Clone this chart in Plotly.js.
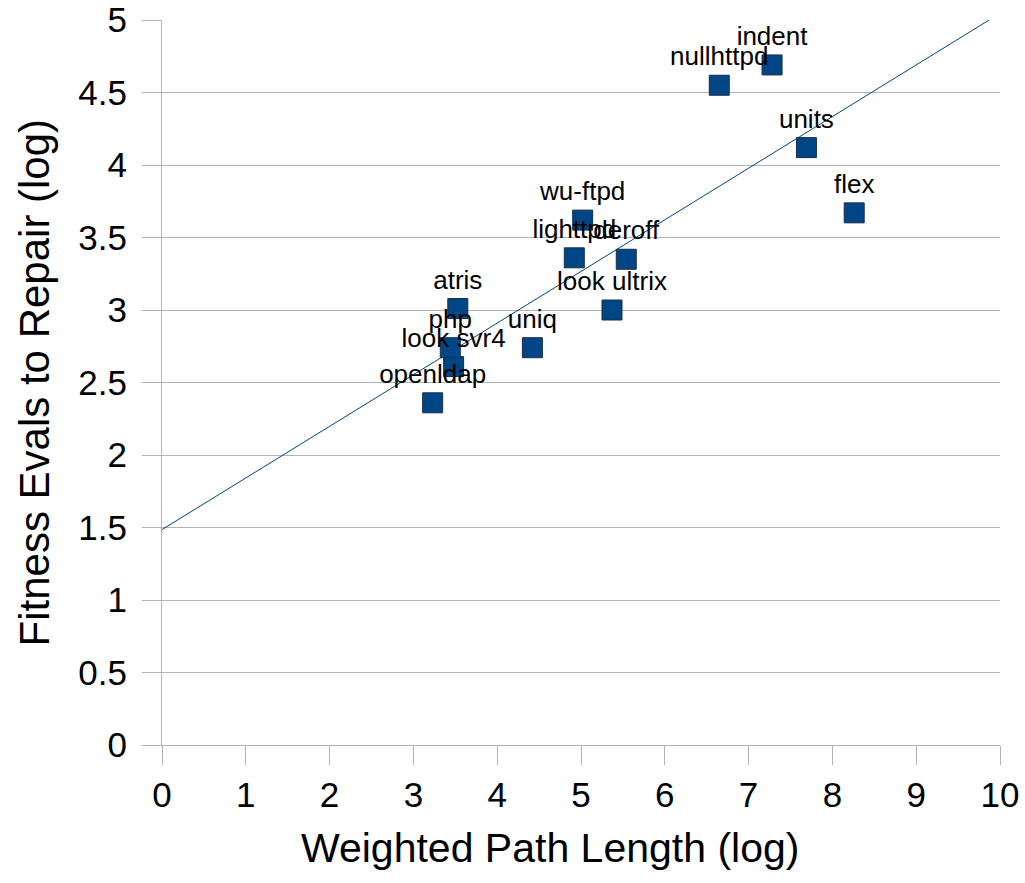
<!DOCTYPE html>
<html>
<head>
<meta charset="utf-8">
<script src="https://cdn.plot.ly/plotly-3.0.1.min.js"></script>
<style>html,body{margin:0;padding:0;background:#fff;}#chart{width:1025px;height:883px;}</style>
</head>
<body>
<div id="chart"></div>
<script>
// Program names and read-off values (log scale)
const programs = ["openldap", "look svr4", "php", "atris", "uniq", "lighttpd", "wu-ftpd", "deroff", "look ultrix", "nullhttpd", "indent", "units", "flex"];
const pathLength = [3.23, 3.48, 3.44, 3.53, 4.42, 4.92, 5.02, 5.54, 5.37, 6.65, 7.28, 7.69, 8.26];
const fitnessEvals = [2.36, 2.61, 2.74, 3.01, 2.74, 3.36, 3.62, 3.35, 3.00, 4.55, 4.69, 4.12, 3.67];
const xTicks = [0, 1, 2, 3, 4, 5, 6, 7, 8, 9, 10];
const yTicks = [0, 0.5, 1, 1.5, 2, 2.5, 3, 3.5, 4, 4.5, 5];
const xTitle = 'Weighted Path Length (log)';
const yTitle = 'Fitness Evals to Repair (log)';

// Least-squares linear trend line computed from the data
const n = pathLength.length;
const mx = pathLength.reduce((a, b) => a + b, 0) / n;
const my = fitnessEvals.reduce((a, b) => a + b, 0) / n;
let sxy = 0, sxx = 0;
for (let i = 0; i < n; i++) {
  sxy += (pathLength[i] - mx) * (fitnessEvals[i] - my);
  sxx += (pathLength[i] - mx) * (pathLength[i] - mx);
}
const slope = sxy / sxx;
const intercept = my - slope * mx;
const trendX = [xTicks[0], xTicks[xTicks.length - 1]];
const trendY = trendX.map(x => intercept + slope * x);

const grid = '#b3b3b3';
const font = 'Liberation Sans, Arial, sans-serif';

const traces = [
  {
    x: trendX, y: trendY, mode: 'lines', type: 'scatter',
    line: {color: '#004586', width: 1}, hoverinfo: 'skip', cliponaxis: true
  },
  {
    x: pathLength, y: fitnessEvals, text: programs, mode: 'markers+text', type: 'scatter',
    textposition: 'top center',
    textfont: {family: font, size: 26, color: '#000'},
    marker: {symbol: 'square', size: 20, color: '#004586', line: {color: '#1a2f4a', width: 1}},
    cliponaxis: false
  }
];

const layout = {
  width: 1025, height: 883,
  margin: {l: 162, r: 25, t: 20, b: 138},
  paper_bgcolor: '#fff', plot_bgcolor: '#fff',
  showlegend: false,
  font: {family: font, color: '#000'},
  xaxis: {
    range: [0, 10], tickvals: xTicks, ticktext: xTicks.map(String),
    showgrid: false, zeroline: false,
    showline: true, linecolor: grid, linewidth: 1,
    ticks: 'outside', ticklen: 19, tickcolor: grid, tickwidth: 1,
    tickfont: {family: font, size: 35, color: '#000'}
  },
  yaxis: {
    range: [0, 5], tickvals: yTicks, ticktext: yTicks.map(String),
    showgrid: true, gridcolor: grid, gridwidth: 1, zeroline: false,
    showline: true, linecolor: grid, linewidth: 1,
    ticks: 'outside', ticklen: 19, tickcolor: grid, tickwidth: 1,
    ticklabelstandoff: 8,
    tickfont: {family: font, size: 35, color: '#000'}
  },
  annotations: [
    {text: xTitle, xref: 'paper', yref: 'paper', x: 0.463, y: -0.142,
     xanchor: 'center', yanchor: 'middle', showarrow: false,
     font: {family: font, size: 41, color: '#000'}},
    {text: yTitle, xref: 'paper', yref: 'paper', x: -0.1516, y: 0.5,
     xanchor: 'center', yanchor: 'middle', textangle: -90, showarrow: false,
     font: {family: font, size: 42, color: '#000'}}
  ]
};

Plotly.newPlot('chart', traces, layout, {displayModeBar: false, staticPlot: true});
</script>
</body>
</html>
